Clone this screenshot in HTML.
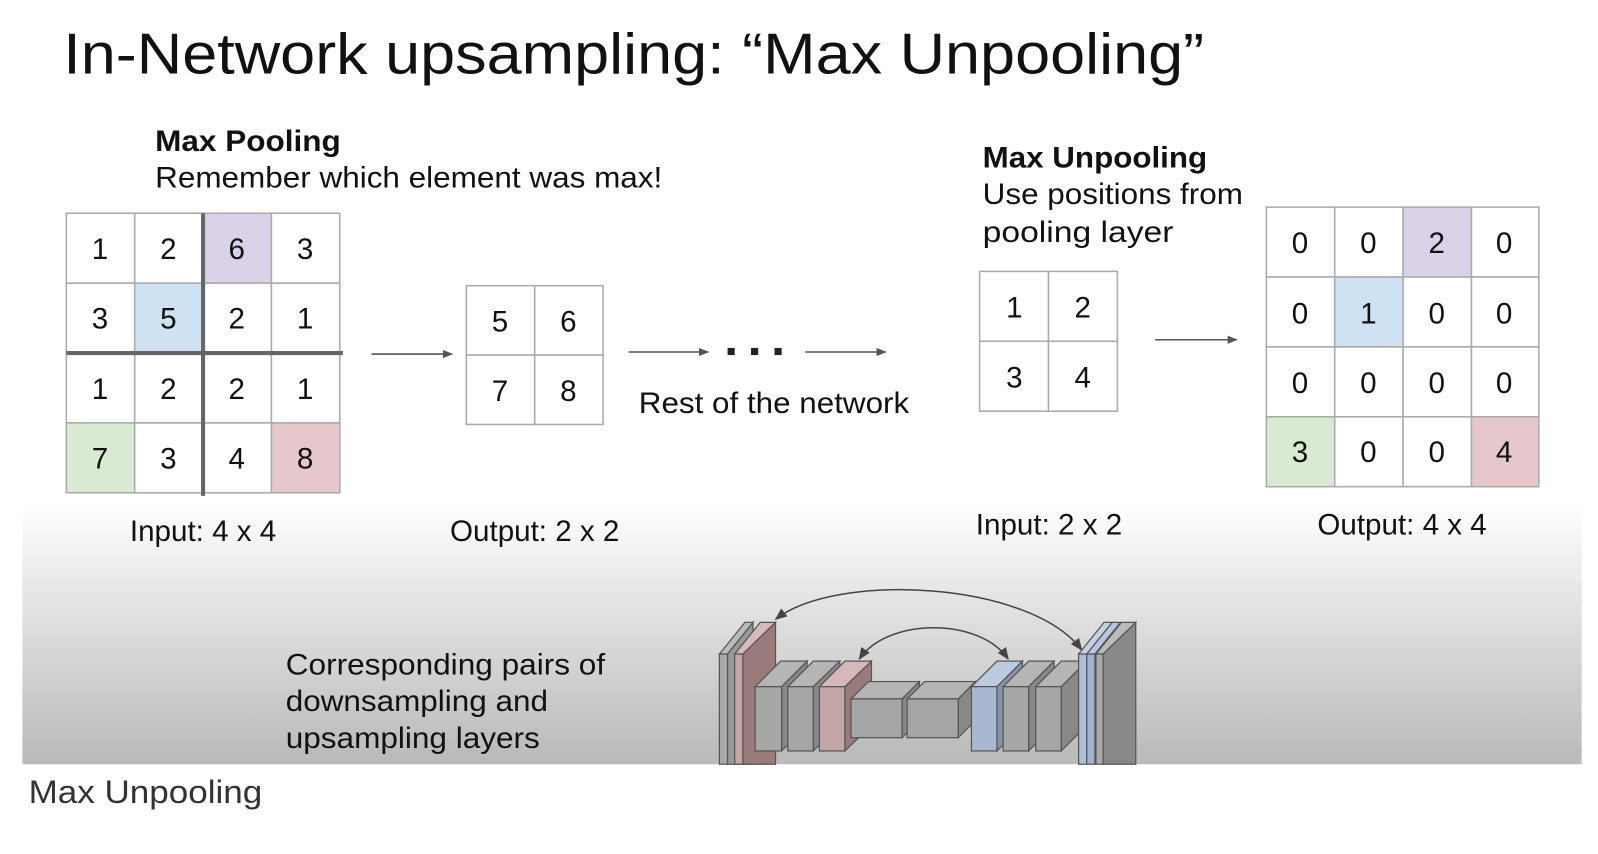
<!DOCTYPE html>
<html><head><meta charset="utf-8"><style>
html,body{margin:0;padding:0;background:#fff;}
svg{display:block;}
text{font-family:"Liberation Sans",Arial,sans-serif;fill:#111;}
</style></head><body>
<svg width="1598" height="854" viewBox="0 0 1566 837" preserveAspectRatio="none" xmlns="http://www.w3.org/2000/svg">
<defs>
<linearGradient id="bg" x1="0" y1="0" x2="0" y2="1">
<stop offset="0" stop-color="#ffffff"/><stop offset="0.25" stop-color="#ececec"/><stop offset="1" stop-color="#b9b9b9"/>
</linearGradient>
<marker id="ah" markerWidth="10" markerHeight="8" refX="9" refY="4" orient="auto" markerUnits="userSpaceOnUse">
<path d="M0,0 L10,4 L0,8 z" fill="#555"/></marker>
<marker id="ah2" markerWidth="12" markerHeight="10" refX="11" refY="5" orient="auto-start-reverse" markerUnits="userSpaceOnUse">
<path d="M0,0 L12,5 L0,10 z" fill="#444"/></marker>
</defs>
<rect width="1566" height="837" fill="#fff"/>
<rect x="22" y="495" width="1528" height="254" fill="url(#bg)"/>

<text x="62" y="72" font-size="56" textLength="1118" lengthAdjust="spacingAndGlyphs">In-Network upsampling: “Max Unpooling”</text>

<text x="152" y="148" font-size="29" font-weight="bold" textLength="182" lengthAdjust="spacingAndGlyphs">Max Pooling</text>
<text x="152" y="184" font-size="29" textLength="497" lengthAdjust="spacingAndGlyphs">Remember which element was max!</text>

<text x="963" y="164" font-size="29" font-weight="bold" textLength="220" lengthAdjust="spacingAndGlyphs">Max Unpooling</text>
<text x="963" y="200" font-size="29" textLength="255" lengthAdjust="spacingAndGlyphs">Use positions from</text>
<text x="963" y="237" font-size="29" textLength="187" lengthAdjust="spacingAndGlyphs">pooling layer</text>

<g font-size="29" text-anchor="middle">
<g stroke="#aaa" stroke-width="1.5">
<rect x="65" y="209" width="67" height="68.5" fill="#fff"/><rect x="132" y="209" width="67" height="68.5" fill="#fff"/><rect x="199" y="209" width="67" height="68.5" fill="#d9d2e9"/><rect x="266" y="209" width="67" height="68.5" fill="#fff"/>
<rect x="65" y="277.5" width="67" height="68.5" fill="#fff"/><rect x="132" y="277.5" width="67" height="68.5" fill="#cfe2f3"/><rect x="199" y="277.5" width="67" height="68.5" fill="#fff"/><rect x="266" y="277.5" width="67" height="68.5" fill="#fff"/>
<rect x="65" y="346" width="67" height="68.5" fill="#fff"/><rect x="132" y="346" width="67" height="68.5" fill="#fff"/><rect x="199" y="346" width="67" height="68.5" fill="#fff"/><rect x="266" y="346" width="67" height="68.5" fill="#fff"/>
<rect x="65" y="414.5" width="67" height="68.5" fill="#d9ead3"/><rect x="132" y="414.5" width="67" height="68.5" fill="#fff"/><rect x="199" y="414.5" width="67" height="68.5" fill="#fff"/><rect x="266" y="414.5" width="67" height="68.5" fill="#e6c8cc"/>
</g>
<line x1="199" y1="209" x2="199" y2="486" stroke="#666" stroke-width="4"/>
<line x1="65" y1="346" x2="336" y2="346" stroke="#666" stroke-width="4"/>
<text x="98" y="254">1</text><text x="165" y="254">2</text><text x="232" y="254">6</text><text x="299" y="254">3</text>
<text x="98" y="322">3</text><text x="165" y="322">5</text><text x="232" y="322">2</text><text x="299" y="322">1</text>
<text x="98" y="391">1</text><text x="165" y="391">2</text><text x="232" y="391">2</text><text x="299" y="391">1</text>
<text x="98" y="459">7</text><text x="165" y="459">3</text><text x="232" y="459">4</text><text x="299" y="459">8</text>

<g stroke="#aaa" stroke-width="1.5" fill="#fff">
<rect x="457" y="280" width="67" height="68"/><rect x="524" y="280" width="67" height="68"/>
<rect x="457" y="348" width="67" height="68"/><rect x="524" y="348" width="67" height="68"/>
</g>
<text x="490" y="325">5</text><text x="557" y="325">6</text><text x="490" y="393">7</text><text x="557" y="393">8</text>

<g stroke="#aaa" stroke-width="1.5" fill="#fff">
<rect x="960" y="266" width="67.5" height="68.5"/><rect x="1027.5" y="266" width="67.5" height="68.5"/>
<rect x="960" y="334.5" width="67.5" height="68.5"/><rect x="1027.5" y="334.5" width="67.5" height="68.5"/>
</g>
<text x="994" y="311">1</text><text x="1061" y="311">2</text><text x="994" y="380">3</text><text x="1061" y="380">4</text>

<g stroke="#aaa" stroke-width="1.5">
<rect x="1241" y="203" width="67" height="68.5" fill="#fff"/><rect x="1308" y="203" width="67" height="68.5" fill="#fff"/><rect x="1375" y="203" width="67" height="68.5" fill="#d9d2e9"/><rect x="1442" y="203" width="66" height="68.5" fill="#fff"/>
<rect x="1241" y="271.5" width="67" height="68.5" fill="#fff"/><rect x="1308" y="271.5" width="67" height="68.5" fill="#cfe2f3"/><rect x="1375" y="271.5" width="67" height="68.5" fill="#fff"/><rect x="1442" y="271.5" width="66" height="68.5" fill="#fff"/>
<rect x="1241" y="340" width="67" height="68.5" fill="#fff"/><rect x="1308" y="340" width="67" height="68.5" fill="#fff"/><rect x="1375" y="340" width="67" height="68.5" fill="#fff"/><rect x="1442" y="340" width="66" height="68.5" fill="#fff"/>
<rect x="1241" y="408.5" width="67" height="68.5" fill="#d9ead3"/><rect x="1308" y="408.5" width="67" height="68.5" fill="#fff"/><rect x="1375" y="408.5" width="67" height="68.5" fill="#fff"/><rect x="1442" y="408.5" width="66" height="68.5" fill="#e6c8cc"/>
</g>
<text x="1274" y="248">0</text><text x="1341" y="248">0</text><text x="1408" y="248">2</text><text x="1474" y="248">0</text>
<text x="1274" y="317">0</text><text x="1341" y="317">1</text><text x="1408" y="317">0</text><text x="1474" y="317">0</text>
<text x="1274" y="385">0</text><text x="1341" y="385">0</text><text x="1408" y="385">0</text><text x="1474" y="385">0</text>
<text x="1274" y="453">3</text><text x="1341" y="453">0</text><text x="1408" y="453">0</text><text x="1474" y="453">4</text>

<text x="199" y="530">Input: 4 x 4</text>
<text x="524" y="530">Output: 2 x 2</text>
<text x="1028" y="524">Input: 2 x 2</text>
<text x="1374" y="524">Output: 4 x 4</text>
</g>

<g stroke="#555" stroke-width="1.5" fill="none">
<line x1="364" y1="347" x2="443" y2="347" marker-end="url(#ah)"/>
<line x1="616" y1="345" x2="694" y2="345" marker-end="url(#ah)"/>
<line x1="789" y1="345" x2="868" y2="345" marker-end="url(#ah)"/>
<line x1="1132" y1="333" x2="1212" y2="333" marker-end="url(#ah)"/>
</g>
<g fill="#222"><rect x="713" y="341" width="7" height="7"/><rect x="736" y="341" width="7" height="7"/><rect x="759" y="341" width="7" height="7"/></g>
<text x="626" y="405" font-size="29" textLength="265" lengthAdjust="spacingAndGlyphs">Rest of the network</text>

<g font-size="29">
<text x="280" y="661" textLength="313" lengthAdjust="spacingAndGlyphs">Corresponding pairs of</text>
<text x="280" y="697" textLength="257" lengthAdjust="spacingAndGlyphs">downsampling and</text>
<text x="280" y="733" textLength="249" lengthAdjust="spacingAndGlyphs">upsampling layers</text>
</g>

<g stroke="#555" stroke-width="1.2">
<polygon points="705,641 730,610 738,610 713,641" fill="#bbb"/>
<rect x="705" y="641" width="8" height="108" fill="#aaa"/>
<polygon points="713,641 738,610 738,749 713,749" fill="#999"/>
<polygon points="720,641 745,610 760,610 728,641" fill="#d8b8b8"/>
<rect x="720" y="641" width="8" height="108" fill="#c9a5a5"/>
<polygon points="728,641 760,610 760,749 728,749" fill="#9a7b7b"/>
<g>
<polygon points="740,673 765,648 791,648 766,673" fill="#b5b5b5"/><polygon points="766,673 791,648 791,711 766,736" fill="#888"/><rect x="740" y="673" width="26" height="63" fill="#a6a6a6"/>
<polygon points="772,673 797,648 823,648 797,673" fill="#b5b5b5"/><polygon points="797,673 823,648 823,711 797,736" fill="#888"/><rect x="772" y="673" width="25" height="63" fill="#a6a6a6"/>
<polygon points="803,673 828,648 854,648 828,673" fill="#d6b8ba"/><polygon points="828,673 854,648 854,711 828,736" fill="#9a7b7d"/><rect x="803" y="673" width="25" height="63" fill="#c4a5a8"/>
<polygon points="834,685 851,668 901,668 884,685" fill="#b5b5b5"/><polygon points="884,685 901,668 901,706 884,723" fill="#888"/><rect x="834" y="685" width="50" height="38" fill="#a6a6a6"/>
<polygon points="889,685 906,668 956,668 939,685" fill="#b5b5b5"/><polygon points="939,685 956,668 956,706 939,723" fill="#888"/><rect x="889" y="685" width="50" height="38" fill="#a6a6a6"/>
<polygon points="952,673 977,648 1002,648 977,673" fill="#bccbe0"/><polygon points="977,673 1002,648 1002,711 977,736" fill="#8894a6"/><rect x="952" y="673" width="25" height="63" fill="#a9b8d2"/>
<polygon points="983,673 1008,648 1033,648 1008,673" fill="#b5b5b5"/><polygon points="1008,673 1033,648 1033,711 1008,736" fill="#888"/><rect x="983" y="673" width="25" height="63" fill="#a6a6a6"/>
<polygon points="1015,673 1040,648 1065,648 1040,673" fill="#b5b5b5"/><polygon points="1040,673 1065,648 1065,711 1040,736" fill="#888"/><rect x="1015" y="673" width="25" height="63" fill="#a6a6a6"/>
</g>
<polygon points="1057,641 1082,610 1090,610 1065,641" fill="#c5d2e6"/>
<rect x="1057" y="641" width="8" height="108" fill="#aebfdc"/>
<polygon points="1065,641 1090,610 1098,610 1073,641" fill="#b8c6de"/>
<rect x="1065" y="641" width="8" height="108" fill="#a0b2d0"/>
<polygon points="1074,641 1099,610 1113,610 1081,641" fill="#bbb"/>
<rect x="1074" y="641" width="7" height="108" fill="#aaa"/>
<polygon points="1081,641 1113,610 1113,749 1081,749" fill="#888"/>
</g>
<g stroke="#444" stroke-width="1.5" fill="none">
<path d="M1060,637 C1010,570 820,560 760,607" marker-start="url(#ah2)" marker-end="url(#ah2)"/>
<path d="M988,646 C960,605 870,605 842,646" marker-start="url(#ah2)" marker-end="url(#ah2)"/>
</g>

<text x="28" y="787" font-size="32" style="fill:#333" textLength="229" lengthAdjust="spacingAndGlyphs">Max Unpooling</text>
</svg>
</body></html>
